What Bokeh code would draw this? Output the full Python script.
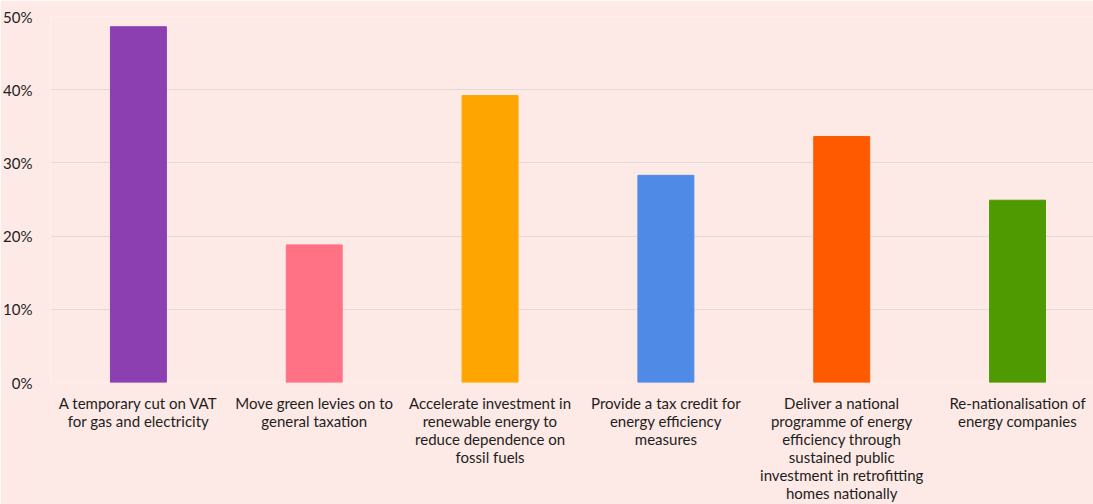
from bokeh.plotting import figure
from bokeh.models import Range1d, FixedTicker, ColumnDataSource
from bokeh.embed import file_html
from bokeh.resources import INLINE

categories = [
    "A temporary cut on VAT\nfor gas and electricity",
    "Move green levies on to\ngeneral taxation",
    "Accelerate investment in\nrenewable energy to\nreduce dependence on\nfossil fuels",
    "Provide a tax credit for\nenergy efficiency\nmeasures",
    "Deliver a national\nprogramme of energy\nefficiency through\nsustained public\ninvestment in retrofitting\nhomes nationally",
    "Re-nationalisation of\nenergy companies",
]
values = [48.6, 18.8, 39.2, 28.3, 33.6, 24.9]
colors = ["#8B3FB0", "#FF7285", "#FFA500", "#4F8AE6", "#FF5A00", "#4E9A00"]
y_ticks = [0, 10, 20, 30, 40, 50]

xs = list(range(len(categories)))
src = ColumnDataSource(dict(x=xs, top=values, color=colors))

bg = "#FDE9E5"
p = figure(width=1093, height=504, output_backend="svg", toolbar_location=None,
           x_range=Range1d(-0.5, 5.432), y_range=Range1d(0, 50),
           min_border_left=50, min_border_right=0, min_border_top=16, min_border_bottom=100,
           background_fill_color=bg, border_fill_color=bg)
p.outline_line_color = None

p.vbar(x="x", top="top", width=56/176, color="color", source=src)

p.xgrid.visible = False
p.ygrid.ticker = FixedTicker(ticks=y_ticks)
p.ygrid.grid_line_color = "#E3D9D9"
p.ygrid.grid_line_width = 1

p.yaxis.ticker = FixedTicker(ticks=y_ticks)
p.yaxis.major_label_overrides = {t: f"{t}%" for t in y_ticks}
p.yaxis.axis_line_color = None
p.yaxis.major_tick_line_color = None
p.yaxis.minor_tick_line_color = None
p.yaxis.major_label_text_font = "Lato"
p.yaxis.major_label_text_font_size = "15px"
p.yaxis.major_label_text_color = "#1E1E1E"
p.yaxis.major_label_standoff = 12

p.xaxis.ticker = FixedTicker(ticks=xs)
p.xaxis.major_label_overrides = {i: c for i, c in enumerate(categories)}
p.xaxis.axis_line_color = None
p.xaxis.major_tick_line_color = None
p.xaxis.minor_tick_line_color = None
p.xaxis.major_label_text_font = "Lato"
p.xaxis.major_label_text_font_size = "15px"
p.xaxis.major_label_text_color = "#1E1E1E"
p.xaxis.major_label_text_line_height = 1.0
p.xaxis.major_label_standoff = 5

open("out.html", "w").write(file_html(p, INLINE))
